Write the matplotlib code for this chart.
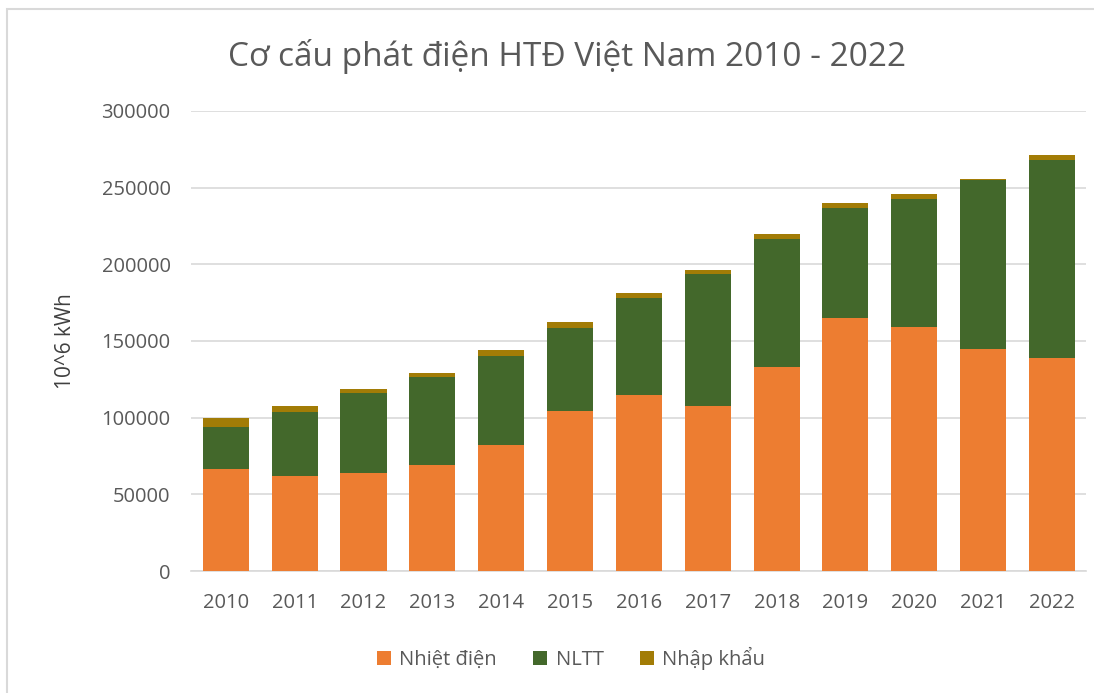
import matplotlib
matplotlib.use("Agg")
import matplotlib.pyplot as plt
from matplotlib.patches import Rectangle
import numpy as np

years = ["2010", "2011", "2012", "2013", "2014", "2015", "2016", "2017", "2018", "2019", "2020", "2021", "2022"]
nhiet_dien = [66500, 61900, 63700, 69100, 82200, 104100, 114800, 107800, 132700, 164800, 158900, 144900, 138700]
nltt = [27600, 41600, 52200, 57400, 58000, 54600, 63000, 85700, 83600, 71700, 83700, 109800, 129300]
nhap_khau = [5600, 4300, 2800, 2600, 3900, 3500, 3300, 2800, 3300, 3500, 3100, 1100, 3500]

series_names = ["Nhiệt điện", "NLTT", "Nhập khẩu"]
colors = ["#ED7D31", "#43682B", "#A27C06"]

plt.rcParams['font.family'] = ['Open Sans', 'DejaVu Sans']

fig = plt.figure(figsize=(10.94, 6.93), dpi=100)
fig.patches.append(Rectangle((7/1094, -0.1), 1.2, (693-9)/693 + 0.1, transform=fig.transFigure,
                             fill=False, edgecolor="#D9D9D9", linewidth=1.5))
ax = fig.add_axes([0.175, 0.176, 0.818, 0.664])

x = np.arange(len(years))
w = 0.67
b1 = np.array(nhiet_dien)
b2 = b1 + np.array(nltt)
ax.bar(x, nhiet_dien, w, color=colors[0], label=series_names[0], zorder=3)
ax.bar(x, nltt, w, bottom=b1, color=colors[1], label=series_names[1], zorder=3)
ax.bar(x, nhap_khau, w, bottom=b2, color=colors[2], label=series_names[2], zorder=3)

ax.set_xlim(-0.5, len(years) - 0.5)
ax.set_ylim(0, 300000)
ax.set_yticks(np.arange(0, 300001, 50000))
ax.set_yticklabels([str(v) for v in range(0, 300001, 50000)])
ax.set_xticks(x)
ax.set_xticklabels(years)
ax.grid(axis='y', color="#D9D9D9", linewidth=1.2, zorder=0)
for s in ["top", "right", "left"]:
    ax.spines[s].set_visible(False)
ax.spines["bottom"].set_color("#D9D9D9")
ax.spines["bottom"].set_linewidth(1.2)
ax.tick_params(axis='both', length=0, labelsize=14.5, colors="#595959")
ax.tick_params(axis='y', pad=15)
ax.tick_params(axis='x', pad=16)
ax.set_ylabel("10^6 kWh", fontsize=15, color="#404040", labelpad=18)

fig.text(0.518, 0.918, "Cơ cấu phát điện HTĐ Việt Nam 2010 - 2022", ha="center", va="center",
         fontsize=24, color="#595959")

leg = fig.legend(loc="center", bbox_to_anchor=(0.522, 0.05), ncol=3, frameon=False,
                 fontsize=14.5, handlelength=0.7, handleheight=0.7, handletextpad=0.4,
                 columnspacing=1.8, labelcolor="#595959")

fig.savefig("out.png", dpi=100)
